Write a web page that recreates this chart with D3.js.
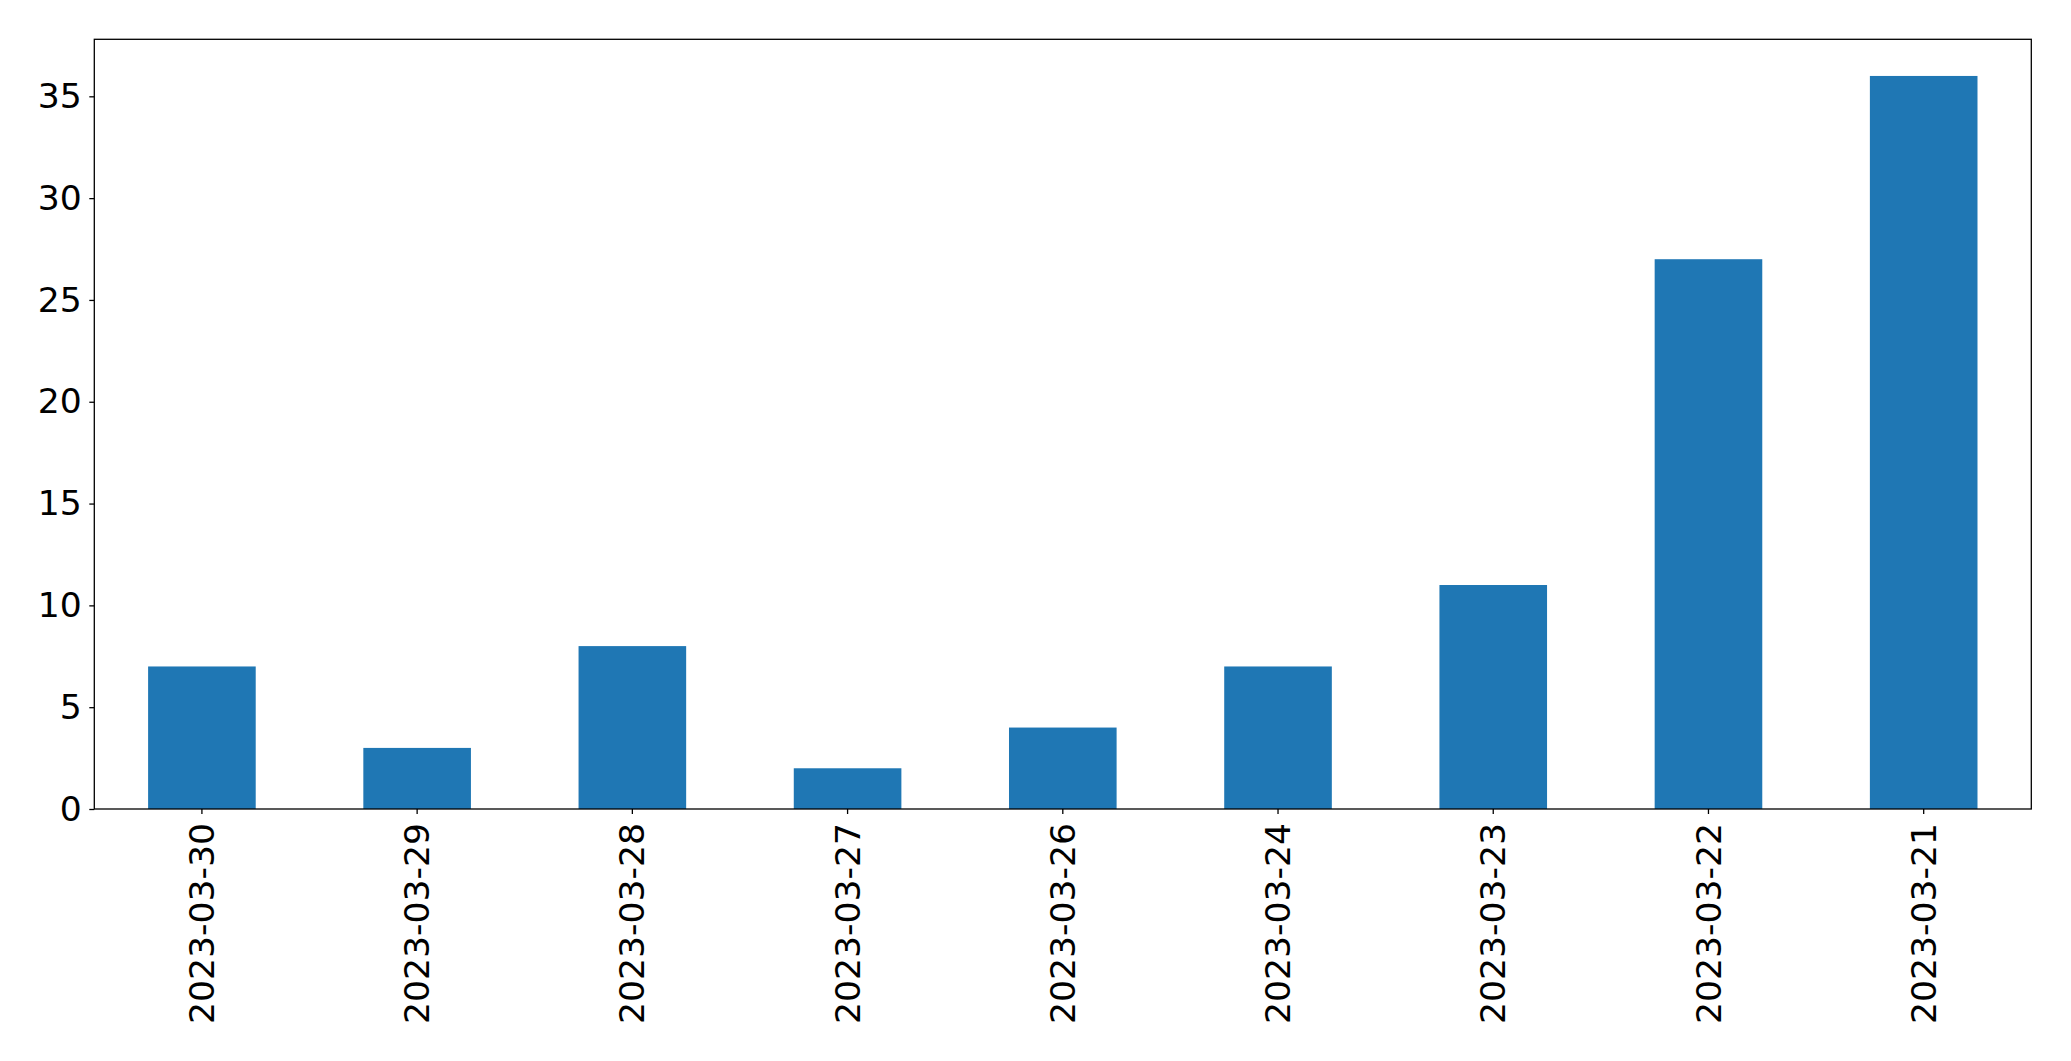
<!DOCTYPE html>
<html><head><meta charset="utf-8">
<script src="https://cdn.jsdelivr.net/npm/d3@7"></script>
<style>body{margin:0;background:#fff}svg{display:block}</style>
</head><body>
<script>
const categories = ["2023-03-30","2023-03-29","2023-03-28","2023-03-27","2023-03-26","2023-03-24","2023-03-23","2023-03-22","2023-03-21"];
const values = [7,3,8,2,4,7,11,27,36];
const yTicks = [0,5,10,15,20,25,30,35];

const W = 2071, H = 1061;
const m = {left:94.3, top:39.3, right:2071-2031.3, bottom:1061-809};
const svg = d3.select("body").append("svg").attr("width",W).attr("height",H);
const iw = W-m.left-m.right, ih = H-m.top-m.bottom;
const g = svg.append("g").attr("transform",`translate(${m.left},${m.top})`);

const x = d3.scaleBand().domain(categories).range([0,iw]).paddingInner(0.5).paddingOuter(0.25);
const y = d3.scaleLinear().domain([0, d3.max(values)*1.05]).range([ih,0]);

g.selectAll("rect.bar").data(values).enter().append("rect")
  .attr("class","bar")
  .attr("x",(d,i)=>x(categories[i]))
  .attr("width",x.bandwidth())
  .attr("y",d=>y(d))
  .attr("height",d=>y(0)-y(d))
  .attr("fill","#1f77b4");

const font = "DejaVu Sans";
const fs = "34.6px";
const yAxis = g.append("g").call(d3.axisLeft(y).tickValues(yTicks).tickSize(5).tickPadding(7.5).tickFormat(d3.format("d")));
yAxis.select(".domain").remove();
yAxis.selectAll("text").attr("font-family",font).attr("font-size",fs).attr("fill","#000");
yAxis.selectAll("line").attr("stroke","#000").attr("stroke-width",1.3);

const xAxis = g.append("g").attr("transform",`translate(0,${ih})`).call(d3.axisBottom(x).tickSize(5).tickPadding(9));
xAxis.select(".domain").remove();
xAxis.selectAll("line").attr("stroke","#000").attr("stroke-width",1.3);
xAxis.selectAll("text").attr("font-family",font).attr("font-size",fs).attr("fill","#000")
  .attr("transform","rotate(-90)").attr("text-anchor","end").attr("dy","0.35em").attr("x",-14).attr("y",0);

g.append("rect").attr("x",0).attr("y",0).attr("width",iw).attr("height",ih)
  .attr("fill","none").attr("stroke","#000").attr("stroke-width",1.3);
</script>
</body></html>
